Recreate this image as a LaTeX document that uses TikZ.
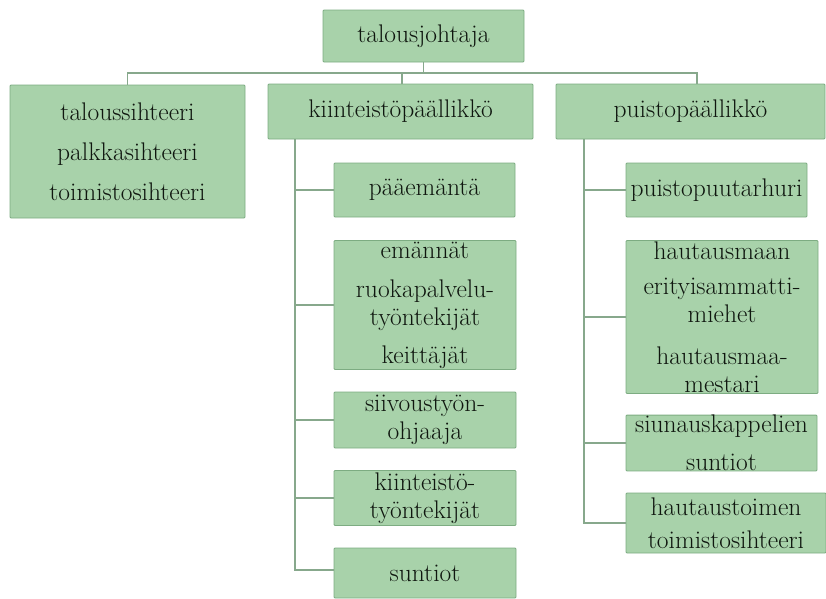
\documentclass[tikz,border=0pt]{standalone}
\definecolor{boxfill}{RGB}{168,210,170}
\definecolor{boxline}{RGB}{125,172,130}
\definecolor{conn}{RGB}{135,168,140}
\definecolor{txt}{RGB}{15,22,15}
\tikzset{
  orgbox/.style={draw=boxline, fill=boxfill, line width=0.9pt, rounded corners=1pt,
    inner sep=0pt, align=center, text=txt,
    font=\fontsize{25.5}{28}\selectfont},
  conline/.style={draw=conn, line width=1.4pt}
}
\begin{document}
\begin{tikzpicture}[x=1pt,y=-1pt]
\useasboundingbox (0,0) rectangle (826,598);
% top
\node[orgbox, minimum width=201pt, minimum height=52pt] (top) at (423.5,36) {talousjohtaja};
% level 2
\node[orgbox, minimum width=235pt, minimum height=133pt] (left) at (127.5,151.5)
  {taloussihteeri\\[12pt]palkkasihteeri\\[12pt]toimistosihteeri};
\node[orgbox, minimum width=265pt, minimum height=55pt] (mid) at (400.5,111.5) {kiinteistöpäällikkö};
\node[orgbox, minimum width=269pt, minimum height=55pt] (right) at (690.5,111.5) {puistopäällikkö};
% middle column
\node[orgbox, minimum width=181pt, minimum height=54pt] (paa) at (424.5,190) {pääemäntä};
\node[orgbox, minimum width=182pt, minimum height=129pt] (ema) at (425,305)
  {emännät\\[11pt]ruokapalvelu-\\työntekijät\\[10pt]keittäjät};
\node[orgbox, minimum width=182pt, minimum height=56pt] (sii) at (425,420) {siivoustyön-\\ohjaaja};
\node[orgbox, minimum width=182pt, minimum height=55pt] (kii) at (425,498) {kiinteistö-\\työntekijät};
\node[orgbox, minimum width=182pt, minimum height=50pt] (sun) at (425,573) {suntiot};
% right column
\node[orgbox, minimum width=181pt, minimum height=54pt] (puu) at (716.5,190) {puistopuutarhuri};
\node[orgbox, minimum width=192pt, minimum height=153pt] (hau) at (722,317)
  {hautausmaan\\[7pt]erityisammatti-\\miehet\\[14pt]hautausmaa-\\mestari};
\node[orgbox, minimum width=191pt, minimum height=54pt] (siu) at (721.5,443) {siunauskappelien\\[10pt]suntiot};
\node[orgbox, minimum width=200pt, minimum height=60pt] (hto) at (726,523) {hautaustoimen\\[5pt]toimistosihteeri};
% connectors top
\coordinate (bus) at (0,73);
\draw[conline] (top.south) -- (top.south |- bus);
\draw[conline] (left.north) |- ([xshift=6.5pt]right.north |- bus) -- ([xshift=6.5pt]right.north);
\draw[conline] ([xshift=1.5pt]mid.north |- bus) -- ([xshift=1.5pt]mid.north);
% middle trunk
\coordinate (mt) at (295,139);
\draw[conline] (mt) |- ([yshift=3pt]sun.west);
\draw[conline] (mt |- paa.west) -- (paa.west);
\draw[conline] (mt |- ema.west) -- (ema.west);
\draw[conline] (mt |- sii.west) -- (sii.west);
\draw[conline] (mt |- kii.west) -- (kii.west);
% right trunk
\coordinate (rt) at (584,139);
\draw[conline] (rt) |- (hto.west);
\draw[conline] (rt |- puu.west) -- (puu.west);
\draw[conline] (rt |- hau.west) -- (hau.west);
\draw[conline] (rt |- siu.west) -- (siu.west);
\end{tikzpicture}
\end{document}
